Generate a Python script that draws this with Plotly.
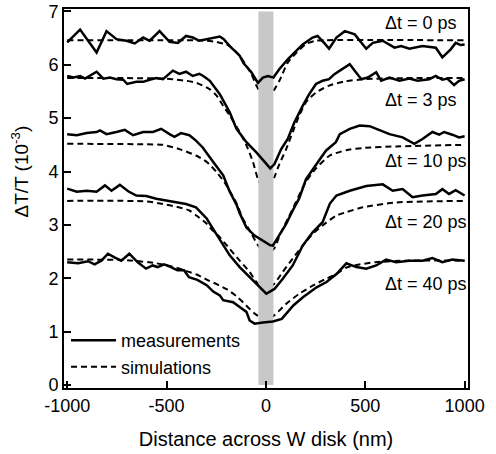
import plotly.graph_objects as go

# ---------------- data ----------------
delays = ["0", "3", "10", "20", "40"]

meas_0ps_x = [-1000, -935, -852, -802, -752, -702, -660, -618, -585, -535, -485, -443, -402, -368, -335, -288, -232, -212, -182, -132, -113, -73, -40, -15, 10, 38, 68, 110, 152, 185, 235, 260, 293, 318, 355, 397, 447, 505, 538, 588, 647, 680, 722, 788, 855, 888, 930, 955, 980, 1000]
meas_0ps_y = [6.42, 6.66, 6.23, 6.63, 6.48, 6.45, 6.40, 6.51, 6.45, 6.63, 6.43, 6.41, 6.54, 6.51, 6.45, 6.49, 6.53, 6.48, 6.35, 6.17, 6.03, 5.86, 5.66, 5.76, 5.79, 5.76, 5.92, 6.10, 6.26, 6.38, 6.51, 6.54, 6.41, 6.30, 6.51, 6.63, 6.57, 6.30, 6.41, 6.45, 6.32, 6.35, 6.30, 6.35, 6.32, 6.14, 6.29, 6.41, 6.37, 6.38]

meas_3ps_x = [-1000, -968, -935, -910, -852, -818, -785, -752, -718, -698, -652, -618, -585, -552, -518, -468, -435, -402, -368, -335, -315, -282, -232, -182, -148, -98, -48, -7, 22, 43, 77, 110, 143, 185, 218, 252, 285, 318, 343, 372, 422, 447, 480, 513, 555, 580, 622, 672, 722, 763, 822, 855, 888, 913, 947, 972, 1000]
meas_3ps_y = [5.79, 5.76, 5.79, 5.74, 5.87, 5.74, 5.76, 5.73, 5.72, 5.64, 5.68, 5.68, 5.72, 5.75, 5.73, 5.89, 5.83, 5.87, 5.79, 5.83, 5.79, 5.70, 5.45, 5.11, 4.80, 4.55, 4.36, 4.18, 4.06, 4.14, 4.42, 4.61, 4.92, 5.23, 5.45, 5.64, 5.70, 5.73, 5.82, 5.89, 6.01, 5.89, 5.73, 5.76, 5.86, 5.70, 5.76, 5.70, 5.74, 5.70, 5.73, 5.79, 5.72, 5.74, 5.62, 5.70, 5.73]

meas_10ps_x = [-1000, -952, -902, -852, -835, -802, -752, -710, -668, -618, -568, -527, -485, -460, -427, -385, -352, -318, -265, -215, -182, -148, -132, -98, -57, -15, 20, 35, 68, 102, 135, 168, 202, 252, 302, 352, 372, 422, 472, 522, 572, 622, 688, 747, 788, 838, 872, 897, 938, 972, 1000]
meas_10ps_y = [4.70, 4.68, 4.72, 4.74, 4.77, 4.70, 4.74, 4.78, 4.68, 4.74, 4.74, 4.80, 4.70, 4.65, 4.72, 4.68, 4.58, 4.45, 4.18, 3.93, 3.62, 3.38, 3.22, 2.95, 2.80, 2.71, 2.62, 2.61, 2.80, 3.02, 3.27, 3.50, 3.86, 4.12, 4.39, 4.55, 4.70, 4.80, 4.86, 4.85, 4.77, 4.70, 4.64, 4.52, 4.61, 4.74, 4.69, 4.74, 4.69, 4.64, 4.66]

meas_20ps_x = [-1000, -952, -902, -852, -810, -777, -735, -693, -652, -602, -552, -518, -470, -402, -352, -318, -298, -265, -215, -182, -132, -82, -40, 2, 43, 85, 135, 185, 235, 285, 322, 355, 422, 505, 588, 638, 688, 738, 788, 855, 888, 922, 955, 1000]
meas_20ps_y = [3.68, 3.62, 3.64, 3.62, 3.74, 3.64, 3.75, 3.63, 3.55, 3.54, 3.49, 3.47, 3.44, 3.39, 3.33, 3.20, 3.12, 2.92, 2.61, 2.43, 2.21, 2.02, 1.87, 1.71, 1.80, 1.99, 2.24, 2.61, 2.86, 3.05, 3.40, 3.55, 3.64, 3.73, 3.76, 3.64, 3.67, 3.52, 3.55, 3.58, 3.67, 3.58, 3.65, 3.55]

meas_40ps_x = [-1000, -945, -895, -862, -828, -795, -762, -728, -687, -645, -603, -570, -545, -512, -478, -445, -412, -387, -345, -298, -265, -232, -215, -165, -132, -98, -82, -57, -15, 35, 80, 138, 188, 255, 305, 355, 405, 455, 505, 555, 605, 655, 722, 788, 838, 888, 938, 1000]
meas_40ps_y = [2.30, 2.28, 2.32, 2.26, 2.33, 2.46, 2.39, 2.33, 2.46, 2.30, 2.18, 2.24, 2.21, 2.26, 2.21, 2.15, 2.15, 2.02, 1.97, 1.87, 1.75, 1.68, 1.59, 1.55, 1.46, 1.37, 1.21, 1.15, 1.17, 1.19, 1.24, 1.49, 1.65, 1.83, 1.93, 2.08, 2.28, 2.21, 2.18, 2.24, 2.35, 2.30, 2.33, 2.33, 2.38, 2.30, 2.35, 2.33]

sim_0ps_x = [-1000, -400, -300, -250, -200, -182, -132, -98, -73, -48, 0, 43, 68, 110, 152, 202, 252, 300, 1000]
sim_0ps_y = [6.46, 6.46, 6.45, 6.43, 6.38, 6.35, 6.17, 5.98, 5.83, 5.61, 5.35, 5.54, 5.70, 6.04, 6.22, 6.39, 6.45, 6.46, 6.46]

sim_3ps_x = [-1000, -700, -500, -450, -400, -348, -282, -248, -215, -182, -132, -98, -65, -40, 0, 43, 68, 102, 135, 168, 202, 252, 318, 400, 500, 700, 1000]
sim_3ps_y = [5.75, 5.75, 5.74, 5.72, 5.70, 5.66, 5.54, 5.42, 5.23, 5.05, 4.74, 4.49, 4.18, 3.86, 3.60, 3.90, 4.14, 4.42, 4.74, 5.05, 5.30, 5.48, 5.61, 5.69, 5.73, 5.75, 5.75]

sim_10ps_x = [-1000, -600, -518, -435, -352, -298, -248, -200, -150, -115, -75, -40, 0, 40, 75, 115, 150, 200, 250, 322, 405, 488, 655, 1000]
sim_10ps_y = [4.52, 4.51, 4.50, 4.42, 4.30, 4.18, 3.99, 3.75, 3.42, 3.11, 2.85, 2.62, 2.45, 2.55, 2.85, 3.15, 3.42, 3.80, 4.05, 4.30, 4.40, 4.44, 4.47, 4.50]

sim_20ps_x = [-1000, -600, -518, -450, -385, -348, -300, -282, -232, -182, -132, -82, -48, 0, 43, 85, 135, 185, 235, 285, 352, 405, 488, 655, 1000]
sim_20ps_y = [3.45, 3.44, 3.39, 3.34, 3.27, 3.17, 3.03, 2.95, 2.77, 2.55, 2.33, 2.12, 1.93, 1.78, 1.90, 2.12, 2.37, 2.61, 2.83, 2.99, 3.17, 3.24, 3.33, 3.42, 3.45]

sim_40ps_x = [-1000, -700, -550, -450, -395, -348, -295, -248, -195, -150, -115, -57, 0, 43, 102, 168, 235, 302, 355, 405, 455, 550, 700, 1000]
sim_40ps_y = [2.35, 2.34, 2.28, 2.20, 2.13, 2.07, 1.97, 1.89, 1.79, 1.67, 1.55, 1.34, 1.22, 1.31, 1.52, 1.71, 1.86, 1.99, 2.08, 2.20, 2.25, 2.30, 2.33, 2.33]

label_y = [6.78, 5.34, 4.20, 3.06, 1.89]      # vertical position of each "Δt = .. ps" label
label_x = 587                                  # labels start here (nm)

disk_half_width = 38                           # grey band, nm
band_y = [0, 7]

x_ticks = [-1000, -500, 0, 500, 1000]
y_ticks = [0, 1, 2, 3, 4, 5, 6, 7]

meas = [(meas_0ps_x, meas_0ps_y), (meas_3ps_x, meas_3ps_y), (meas_10ps_x, meas_10ps_y),
        (meas_20ps_x, meas_20ps_y), (meas_40ps_x, meas_40ps_y)]
sims = [(sim_0ps_x, sim_0ps_y), (sim_3ps_x, sim_3ps_y), (sim_10ps_x, sim_10ps_y),
        (sim_20ps_x, sim_20ps_y), (sim_40ps_x, sim_40ps_y)]

FONT = "Liberation Sans, Arial, Helvetica, sans-serif"

fig = go.Figure()

# simulations (dashed), below the disk band
for i, (sx, sy) in enumerate(sims):
    fig.add_trace(go.Scatter(
        x=sx, y=sy, mode="lines", name="simulations",
        line=dict(color="black", width=2, dash="6px,4px", shape="spline", smoothing=0.6),
        legendgroup="sim", showlegend=(i == 0), legendrank=2, hoverinfo="skip"))

# grey band marking the W disk
fig.add_trace(go.Scatter(
    x=[-disk_half_width, disk_half_width, disk_half_width, -disk_half_width, -disk_half_width],
    y=[band_y[0], band_y[0], band_y[1], band_y[1], band_y[0]],
    mode="lines", fill="toself", fillcolor="#c8c8c8", line=dict(width=0, color="#c8c8c8"),
    showlegend=False, hoverinfo="skip"))

# measurements (solid)
for i, (mx, my) in enumerate(meas):
    fig.add_trace(go.Scatter(
        x=mx, y=my, mode="lines", name="measurements",
        line=dict(color="black", width=2.5),
        legendgroup="meas", showlegend=(i == 0), legendrank=1, hoverinfo="skip"))

for d, ly in zip(delays, label_y):
    fig.add_annotation(x=label_x, y=ly, xref="x", yref="y", text=f"Δt = {d} ps",
                       showarrow=False, xanchor="left", yanchor="middle",
                       font=dict(family=FONT, size=18, color="black"))

# y-axis title
fig.add_annotation(x=-0.11, y=0.57, xref="paper", yref="paper",
                   text="ΔT/T (10<sup>-3</sup>)", textangle=-90, showarrow=False,
                   xanchor="center", yanchor="middle",
                   font=dict(family=FONT, size=19, color="black"))

axis_common = dict(showline=True, linewidth=2, linecolor="black", mirror=True,
                   ticks="inside", ticklen=7, tickwidth=2, tickcolor="black",
                   showgrid=False, zeroline=False, automargin=False,
                   tickfont=dict(family=FONT, size=18, color="black"))

fig.update_layout(
    width=496, height=454,
    margin=dict(l=64, r=28, t=9, b=66, autoexpand=False),
    plot_bgcolor="white", paper_bgcolor="white",
    font=dict(family=FONT, size=18, color="black"),
    xaxis=dict(range=[-1016, 1017], tickvals=x_ticks,
               ticktext=[f"{v}" if v >= 0 else f"-{abs(v)}" for v in x_ticks],
               title=dict(text="Distance across W disk (nm)", font=dict(family=FONT, size=20), standoff=17),
               **axis_common),
    yaxis=dict(range=[-0.056, 7.045], tickvals=y_ticks, **axis_common),
    legend=dict(x=0.005, y=0.174, xanchor="left", yanchor="top", bgcolor="rgba(0,0,0,0)",
                font=dict(family=FONT, size=18), itemwidth=45, tracegroupgap=0),
    showlegend=True,
)

# remove the default 8px page margin so the figure sits at the window origin
fig.write_html("out.html", config={"displayModeBar": False},
               post_script="document.body.style.margin='0';")
